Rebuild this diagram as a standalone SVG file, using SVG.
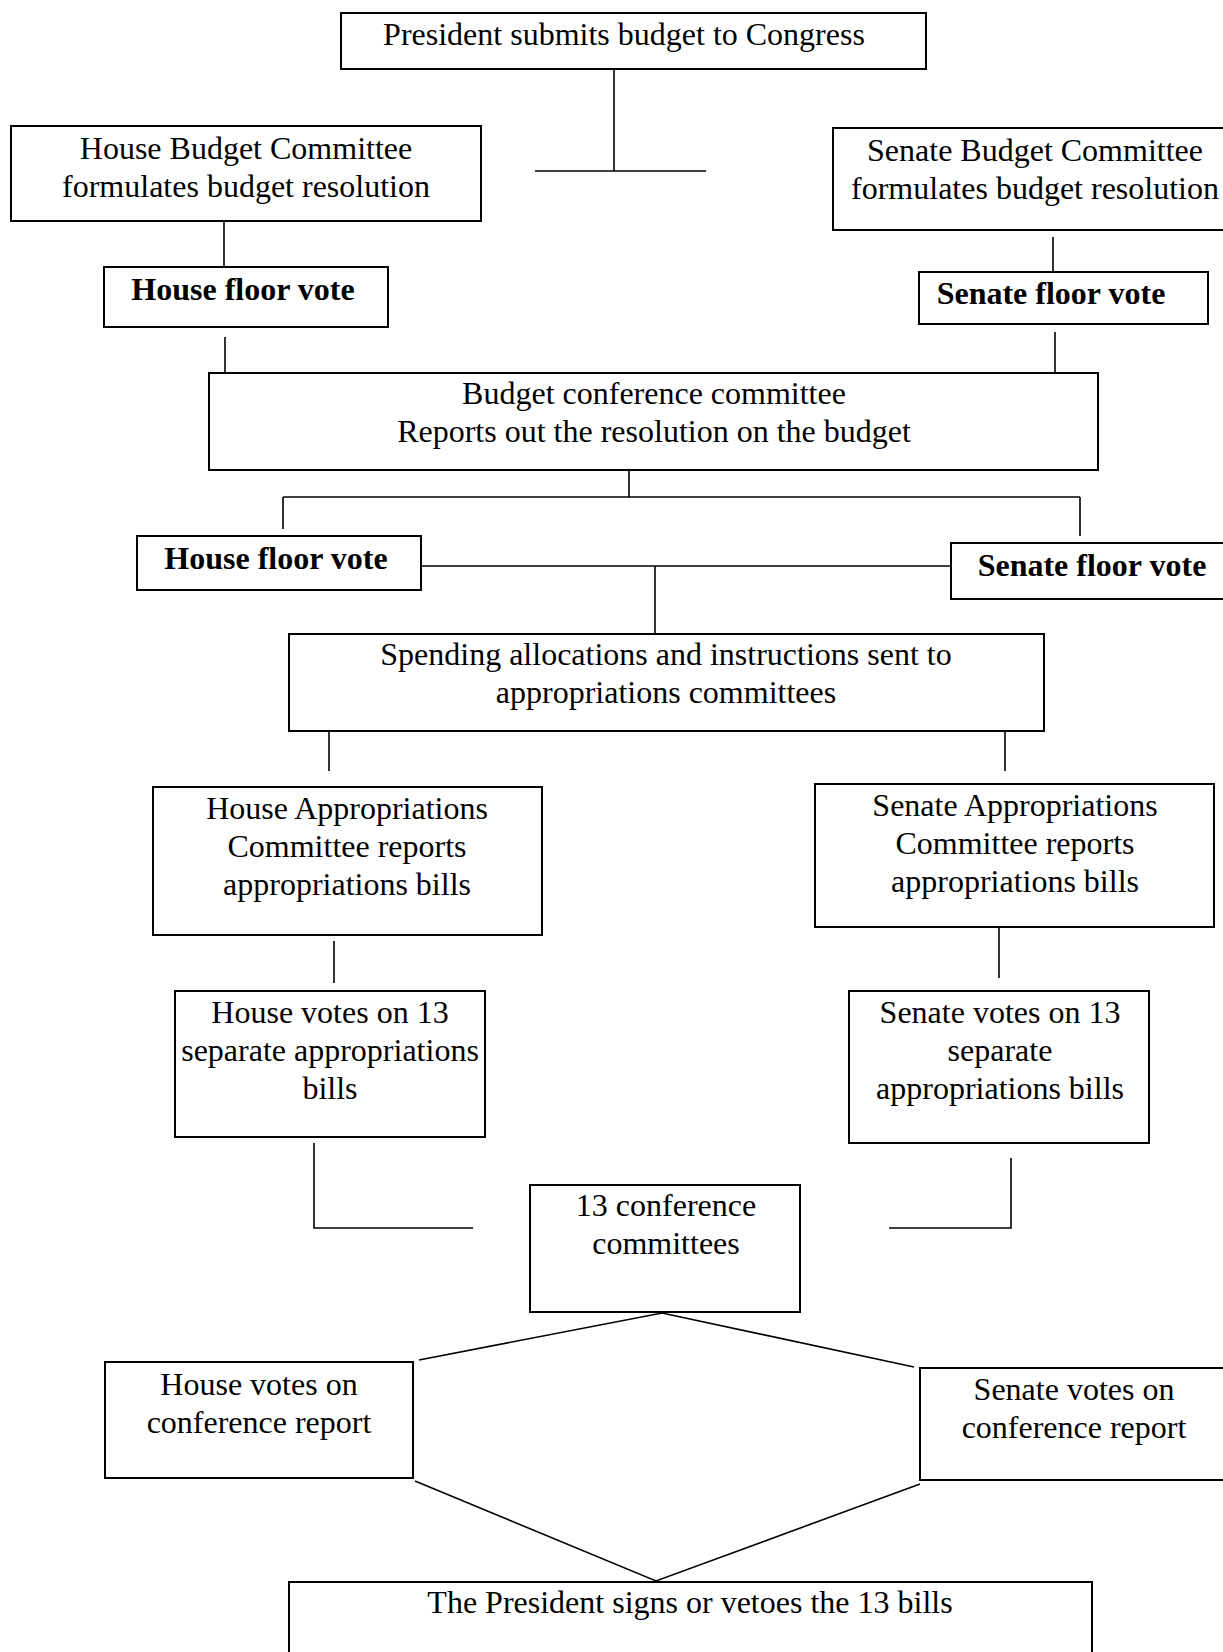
<svg xmlns="http://www.w3.org/2000/svg" width="1223" height="1652" viewBox="0 0 1223 1652">
<style>
.box{fill:#fff;stroke:#000;stroke-width:2}
.t{font-family:"Liberation Serif","Times New Roman",serif;font-size:32px;fill:#000;text-anchor:middle}
.b{font-weight:bold}
.ln{fill:none;stroke:#000;stroke-width:1.6}
</style>
<rect width="1223" height="1652" fill="#fff"/>
<g id="connectors">
<path class="ln" d="M614 69V171M535 171H706"/>
<path class="ln" d="M224 221V267"/>
<path class="ln" d="M1053 237V272"/>
<path class="ln" d="M225 337V373M1055 332V373"/>
<path class="ln" d="M629 471V497M283 497H1080M283 497V529M1080 497V536"/>
<path class="ln" d="M421 566H951M655 566V634"/>
<path class="ln" d="M329 731V771M1005 731V771"/>
<path class="ln" d="M334 941V983M999 928V978"/>
<path class="ln" d="M314 1143V1228H473M1011 1158V1228H889"/>
<path class="ln" d="M419 1360L662 1313L914 1367"/>
<path class="ln" d="M415 1481L656 1581L920 1484"/>
</g>
<g id="president">
<rect class="box" x="341" y="13" width="585" height="56"/>
<text class="t" x="624" y="45">President submits budget to Congress</text>
</g>
<g id="house-budget">
<rect class="box" x="11" y="126" width="470" height="95"/>
<text class="t" x="246" y="159">House Budget Committee</text>
<text class="t" x="246" y="197">formulates budget resolution</text>
</g>
<g id="senate-budget">
<rect class="box" x="833" y="128" width="400" height="102"/>
<text class="t" x="1035" y="161">Senate Budget Committee</text>
<text class="t" x="1035" y="199">formulates budget resolution</text>
</g>
<g id="house-floor-1">
<rect class="box" x="104" y="267" width="284" height="60"/>
<text class="t b" x="243" y="300">House floor vote</text>
</g>
<g id="senate-floor-1">
<rect class="box" x="919" y="272" width="289" height="52"/>
<text class="t b" x="1051" y="304">Senate floor vote</text>
</g>
<g id="budget-conference">
<rect class="box" x="209" y="373" width="889" height="97"/>
<text class="t" x="654" y="404">Budget conference committee</text>
<text class="t" x="654" y="442">Reports out the resolution on the budget</text>
</g>
<g id="house-floor-2">
<rect class="box" x="137" y="536" width="284" height="54"/>
<text class="t b" x="276" y="569">House floor vote</text>
</g>
<g id="senate-floor-2">
<rect class="box" x="951" y="543" width="290" height="56"/>
<text class="t b" x="1092" y="576">Senate floor vote</text>
</g>
<g id="spending">
<rect class="box" x="289" y="634" width="755" height="97"/>
<text class="t" x="666" y="665">Spending allocations and instructions sent to</text>
<text class="t" x="666" y="703">appropriations committees</text>
</g>
<g id="house-approp">
<rect class="box" x="153" y="787" width="389" height="148"/>
<text class="t" x="347" y="819">House Appropriations</text>
<text class="t" x="347" y="857">Committee reports</text>
<text class="t" x="347" y="895">appropriations bills</text>
</g>
<g id="senate-approp">
<rect class="box" x="815" y="784" width="399" height="143"/>
<text class="t" x="1015" y="816">Senate Appropriations</text>
<text class="t" x="1015" y="854">Committee reports</text>
<text class="t" x="1015" y="892">appropriations bills</text>
</g>
<g id="house-votes-13">
<rect class="box" x="175" y="991" width="310" height="146"/>
<text class="t" x="330" y="1023">House votes on 13</text>
<text class="t" x="330" y="1061">separate appropriations</text>
<text class="t" x="330" y="1099">bills</text>
</g>
<g id="senate-votes-13">
<rect class="box" x="849" y="991" width="300" height="152"/>
<text class="t" x="1000" y="1023">Senate votes on 13</text>
<text class="t" x="1000" y="1061">separate</text>
<text class="t" x="1000" y="1099">appropriations bills</text>
</g>
<g id="conference-13">
<rect class="box" x="530" y="1185" width="270" height="127"/>
<text class="t" x="666" y="1216">13 conference</text>
<text class="t" x="666" y="1254">committees</text>
</g>
<g id="house-conf-report">
<rect class="box" x="105" y="1362" width="308" height="116"/>
<text class="t" x="259" y="1395">House votes on</text>
<text class="t" x="259" y="1433">conference report</text>
</g>
<g id="senate-conf-report">
<rect class="box" x="920" y="1368" width="310" height="112"/>
<text class="t" x="1074" y="1400">Senate votes on</text>
<text class="t" x="1074" y="1438">conference report</text>
</g>
<g id="president-final">
<rect class="box" x="289" y="1582" width="803" height="100"/>
<text class="t" x="690" y="1613">The President signs or vetoes the 13 bills</text>
</g>
</svg>
